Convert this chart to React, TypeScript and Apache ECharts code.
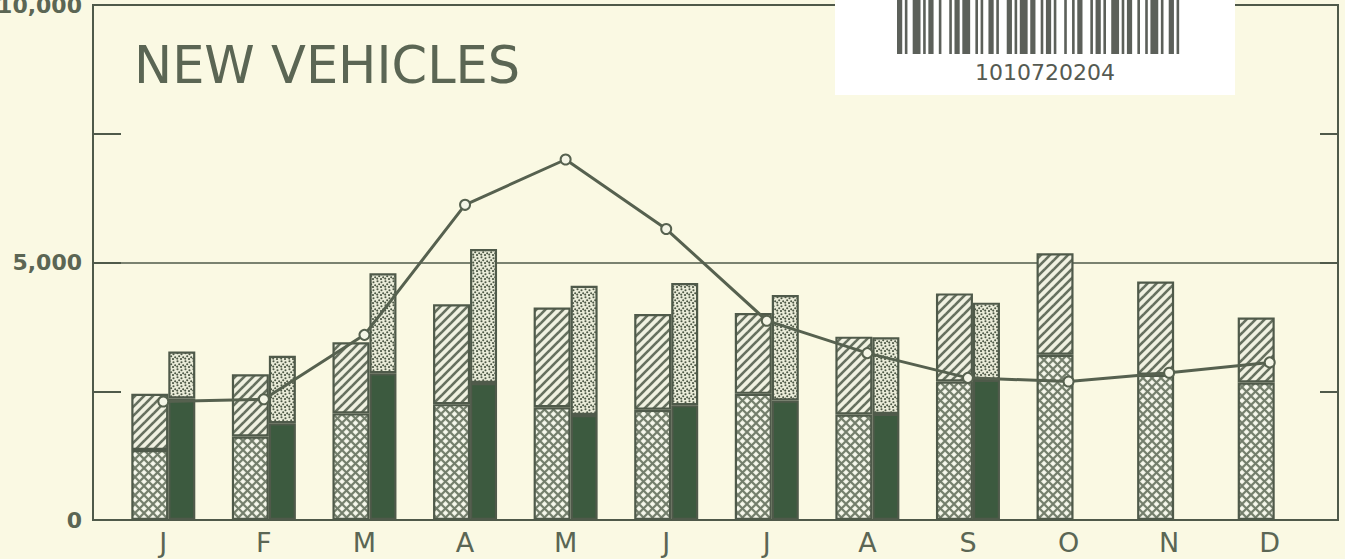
import React, { useEffect, useRef } from "react";
import * as echarts from "echarts";

// ---- data ----
const months = ["J", "F", "M", "A", "M", "J", "J", "A", "S", "O", "N", "D"];
// left bar: cross-hatched bottom segment + diagonal-hatched top segment
const leftCross = [1360, 1620, 2070, 2250, 2190, 2140, 2450, 2050, 2690, 3210, 2820, 2670];
const leftHatch = [1090, 1210, 1380, 1940, 1935, 1860, 1570, 1510, 1710, 1970, 1810, 1260];
// right bar: solid bottom segment + dotted top segment
const rightSolid = [2360, 1880, 2850, 2660, 2040, 2230, 2320, 2060, 2720, null, null, null];
const rightDots = [910, 1310, 1940, 2600, 2510, 2370, 2050, 1490, 1500, null, null, null];
// line with open circles
const lineValues = [2300, 2345, 3595, 6120, 7000, 5650, 3870, 3240, 2760, 2690, 2860, 3060];
const yLabelText: Record<number, string> = { 0: "0", 5000: "5,000", 10000: "10,000" };
const titleText = "NEW VEHICLES";
const stickerCode = "1010720204";
const barcodeWidths = [2, 1, 1, 2, 3, 1, 1, 1, 2, 2, 1, 3, 1, 1, 2, 1, 3, 2, 1, 1, 1, 2, 2, 1, 1, 3, 2, 1, 1, 1, 3, 1, 2, 2, 1, 1, 2, 1, 1, 3, 1, 2, 1, 1, 2, 3, 1, 1, 2, 1, 1, 2, 3, 1, 1, 1, 2, 2, 1, 2, 1, 1, 3, 1, 1, 2, 2, 1, 1, 3];

// ---- style ----
const BG = "#faf9e3";
const INK = "#4f5a4a";
const TEXT = "#5b6654";
const SOLID = "#3c5a3f";

function makeTile(size: number, draw: (ctx: CanvasRenderingContext2D, s: number) => void) {
  const c = document.createElement("canvas");
  c.width = size;
  c.height = size;
  const ctx = c.getContext("2d") as CanvasRenderingContext2D;
  draw(ctx, size);
  return { image: c, repeat: "repeat", imageWidth: size, imageHeight: size } as any;
}

export default function App() {
  const ref = useRef<HTMLDivElement>(null);

  useEffect(() => {
    if (!ref.current) return;
    const chart = echarts.init(ref.current, undefined, { renderer: "svg" });

    const hatch = makeTile(9, (ctx, s) => {
      ctx.fillStyle = "#f0f1e1";
      ctx.fillRect(0, 0, s, s);
      ctx.strokeStyle = "#66705f";
      ctx.lineWidth = 2.6;
      for (const k of [-s, 0, s]) {
        ctx.beginPath();
        ctx.moveTo(k - 1, s + 1);
        ctx.lineTo(k + s + 1, -1);
        ctx.stroke();
      }
    });
    const cross = makeTile(9, (ctx, s) => {
      ctx.fillStyle = "#e4e8d8";
      ctx.fillRect(0, 0, s, s);
      ctx.strokeStyle = "#737e6c";
      ctx.lineWidth = 2;
      ctx.beginPath();
      ctx.moveTo(-1, -1);
      ctx.lineTo(s + 1, s + 1);
      ctx.moveTo(-1, s + 1);
      ctx.lineTo(s + 1, -1);
      ctx.stroke();
      ctx.fillStyle = "#f8f9f0";
      for (const [x, y] of [[s / 2, 0], [s / 2, s], [0, s / 2], [s, s / 2]]) {
        ctx.beginPath();
        ctx.arc(x, y, 1.6, 0, Math.PI * 2);
        ctx.fill();
      }
    });
    const dots = makeTile(8, (ctx, s) => {
      ctx.fillStyle = "#e9ebd8";
      ctx.fillRect(0, 0, s, s);
      ctx.fillStyle = "#4d5846";
      for (const [x, y] of [[1.5, 1.2], [5.5, 2.2], [3.2, 4.2], [7.2, 5.2], [1.2, 6.6], [5, 7]]) {
        ctx.beginPath();
        ctx.arc(x, y, 1.05, 0, Math.PI * 2);
        ctx.fill();
      }
    });

    // barcode stripes (decoration of the sticker)
    const total = barcodeWidths.reduce((a, b) => a + b, 0);
    const unit = 290 / total;
    const stripes: any[] = [];
    let acc = 0;
    barcodeWidths.forEach((w, i) => {
      if (i % 2 === 0) {
        stripes.push({
          type: "rect",
          z: 101,
          shape: { x: 897 + acc * unit, y: 0, width: w * unit, height: 54 },
          style: { fill: "#5c605a" },
        });
      }
      acc += w;
    });

    const barStyle = (fill: any) => ({ color: fill, borderColor: INK, borderWidth: 2.2 });

    chart.setOption({
      animation: false,
      backgroundColor: BG,
      grid: [
        { left: 93, right: 7, top: 5, bottom: 39, outerBoundsMode: "none", containLabel: false, show: true, borderColor: INK, borderWidth: 2, backgroundColor: "transparent" },
        { left: 113, right: 25, top: 5, bottom: 39, outerBoundsMode: "none", containLabel: false },
      ],
      xAxis: [
        { gridIndex: 0, type: "value", min: 0, max: 1, show: false },
        {
          gridIndex: 1,
          type: "category",
          data: months,
          axisLine: { show: false },
          axisTick: { show: false },
          splitLine: { show: false },
          axisLabel: { fontSize: 27, color: TEXT, fontFamily: "DejaVu Sans", margin: 9 },
        },
      ],
      yAxis: [
        {
          gridIndex: 0,
          type: "value",
          min: 0,
          max: 10000,
          interval: 2500,
          position: "left",
          axisLine: { show: false },
          axisTick: { show: true, inside: true, length: 28, lineStyle: { color: INK, width: 2 } },
          splitLine: { show: false },
          axisLabel: {
            formatter: (v: number) => yLabelText[v] ?? "",
            fontSize: 22,
            fontWeight: "bold",
            fontFamily: "DejaVu Sans",
            color: TEXT,
            margin: 11,
          },
        },
        {
          gridIndex: 0,
          type: "value",
          min: 0,
          max: 10000,
          interval: 2500,
          position: "right",
          axisLine: { show: false },
          axisTick: { show: true, inside: true, length: 18, lineStyle: { color: INK, width: 2 } },
          splitLine: { show: false },
          axisLabel: { show: false },
        },
        {
          gridIndex: 0,
          type: "value",
          min: 0,
          max: 10000,
          interval: 5000,
          position: "left",
          axisLine: { show: false },
          axisTick: { show: false },
          axisLabel: { show: false },
          splitLine: { show: true, lineStyle: { color: INK, width: 1.5 } },
        },
        { gridIndex: 1, type: "value", min: 0, max: 10000, show: false },
      ],
      series: [
        { type: "bar", name: "cross", xAxisIndex: 1, yAxisIndex: 3, stack: "left", barWidth: 37, barGap: "0%", data: leftCross, itemStyle: barStyle(cross) },
        { type: "bar", name: "hatch", xAxisIndex: 1, yAxisIndex: 3, stack: "left", barWidth: 37, barGap: "0%", data: leftHatch, itemStyle: barStyle(hatch) },
        { type: "bar", name: "solid", xAxisIndex: 1, yAxisIndex: 3, stack: "right", barWidth: 27, barGap: "0%", data: rightSolid, itemStyle: barStyle(SOLID) },
        { type: "bar", name: "dots", xAxisIndex: 1, yAxisIndex: 3, stack: "right", barWidth: 27, barGap: "0%", data: rightDots, itemStyle: barStyle(dots) },
        {
          type: "line",
          name: "total",
          xAxisIndex: 1,
          yAxisIndex: 3,
          z: 10,
          data: lineValues,
          symbol: "circle",
          symbolSize: 10,
          lineStyle: { color: "#56614f", width: 3 },
          itemStyle: { color: "#f4f5e6", borderColor: "#56614f", borderWidth: 2 },
        },
      ],
      graphic: [
        {
          type: "text",
          z: 100,
          left: 134,
          top: 40,
          style: { text: titleText, fontSize: 51, fontFamily: "DejaVu Sans", fill: TEXT },
        },
        { type: "rect", z: 100, shape: { x: 835, y: 0, width: 400, height: 95 }, style: { fill: "#ffffff" } },
        ...stripes,
        {
          type: "text",
          z: 101,
          x: 1045,
          y: 72,
          style: { text: stickerCode, fontSize: 22, fontFamily: "DejaVu Sans", fill: "#555a52", align: "center", verticalAlign: "middle" },
        },
      ],
    });

    return () => chart.dispose();
  }, []);

  return (
    <div
      ref={ref}
      style={{ position: "fixed", left: 0, top: 0, width: "1345px", height: "559px", background: BG }}
    />
  );
}
